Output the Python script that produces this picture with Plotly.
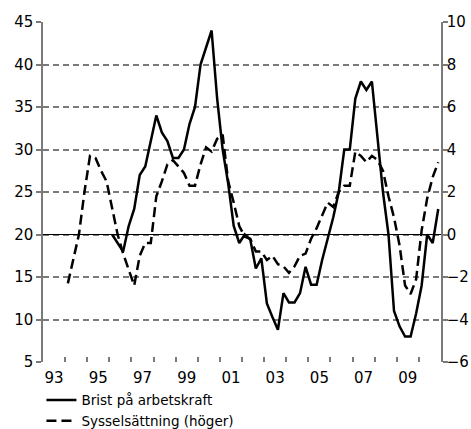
import plotly.graph_objects as go

# Quarterly data
brist_start = 1996  # first year of "Brist på arbetskraft"
brist = [20.0, 19.0, 18.0, 21.0,
         23.0, 27.0, 28.0, 31.0,
         34.0, 32.0, 31.0, 29.0,
         29.0, 30.0, 33.0, 35.0,
         40.0, 42.0, 44.0, 36.0,
         30.0, 26.0, 21.0, 19.0,
         20.0, 19.4, 16.0, 17.2,
         11.9, 10.3, 8.8, 13.1,
         12.0, 12.0, 13.1, 16.2,
         14.1, 14.1, 17.0, 19.5,
         22.0, 25.0, 30.0, 30.0,
         36.0, 38.0, 37.0, 38.0,
         31.5, 25.0, 20.0, 11.0,
         9.2, 8.0, 8.0, 10.7,
         14.0, 20.0, 19.0, 23.0]

syss_start = 1994  # first year of "Sysselsättning"
syss = [-2.3, -1.1, 0.0, 2.0,
        3.7, 3.6, 3.0, 2.5,
        1.2, 0.0, -0.9, -1.7,
        -2.4, -1.0, -0.4, -0.4,
        1.8, 2.5, 3.3, 3.5,
        3.2, 2.9, 2.3, 2.3,
        3.3, 4.1, 3.9, 4.5,
        4.7, 2.5, 1.5, 0.4,
        -0.1, -0.2, -0.8, -0.8,
        -1.2, -1.0, -1.4, -1.5,
        -1.8, -1.5, -1.0, -0.9,
        -0.2, 0.3, 0.9, 1.5,
        1.3, 2.0, 2.3, 2.3,
        3.9, 3.7, 3.4, 3.7,
        3.5, 3.0, 1.8, 0.8,
        -0.5, -2.4, -2.8, -2.1,
        0.2, 1.7, 2.7, 3.4]

x_labels = ["93", "95", "97", "99", "01", "03", "05", "07", "09"]
left_ticks = [5, 10, 15, 20, 25, 30, 35, 40, 45]
right_ticks = [-6, -4, -2, 0, 2, 4, 6, 8, 10]

def qx(start, n):
    return [start + i // 4 + (i % 4 + 0.5) / 4 for i in range(n)]

FONT = "DejaVu Sans, Verdana, sans-serif"
GRID = "#7a7a7a"

fig = go.Figure()
fig.add_trace(go.Scatter(x=qx(brist_start, len(brist)), y=brist, mode="lines",
                         name="Brist på arbetskraft",
                         line=dict(color="black", width=2.5)))
fig.add_trace(go.Scatter(x=qx(syss_start, len(syss)), y=syss, mode="lines",
                         name="Sysselsättning (höger)", yaxis="y2",
                         line=dict(color="black", width=2.5, dash="10px,5px")))

label_pos = [1993.5 + 2 * i for i in range(len(x_labels))]
fig.update_layout(
    width=471, height=429,
    margin=dict(l=43, r=30, t=22, b=67, autoexpand=False),
    paper_bgcolor="white", plot_bgcolor="white",
    font=dict(family=FONT, size=15, color="black"),
    showlegend=True,
    legend=dict(xref="container", yref="container", x=0.088, y=0.103,
                xanchor="left", yanchor="top",
                orientation="v", font=dict(size=13.5), itemwidth=30,
                tracegroupgap=0, bgcolor="rgba(0,0,0,0)"),
    xaxis=dict(range=[1993, 2011], tickmode="array", tickvals=label_pos,
               ticktext=x_labels, ticks="", showgrid=False, zeroline=False,
               showline=False, tickfont=dict(size=15), automargin=False,
               ticklabelstandoff=5,
               minor=dict(tickmode="array", tickvals=list(range(1994, 2011)),
                          ticks="inside", ticklen=5, tickcolor=GRID,
                          tickwidth=1.5, showgrid=False)),
    yaxis=dict(range=[5, 45], tickmode="array", tickvals=left_ticks,
               showgrid=True, gridcolor=GRID, gridwidth=1.6, griddash="6px,4px",
               zeroline=False, showline=True, linecolor=GRID, linewidth=1.5,
               ticks="outside", ticklen=5, tickcolor=GRID, tickwidth=1.5,
               tickfont=dict(size=15), automargin=False),
    yaxis2=dict(range=[-6, 10], tickmode="array", tickvals=right_ticks,
                overlaying="y", side="right", showgrid=False,
                zeroline=True, zerolinecolor="black", zerolinewidth=1.2,
                showline=True, linecolor=GRID, linewidth=1.5,
                ticks="outside", ticklen=5, tickcolor=GRID, tickwidth=1.5,
                tickfont=dict(size=15), automargin=False,
                ticklabelstandoff=-4),
)

fig.write_html("out.html",
               config={"displayModeBar": False},
               post_script="document.body.style.margin='0';"
                           "document.body.style.overflow='hidden';")
